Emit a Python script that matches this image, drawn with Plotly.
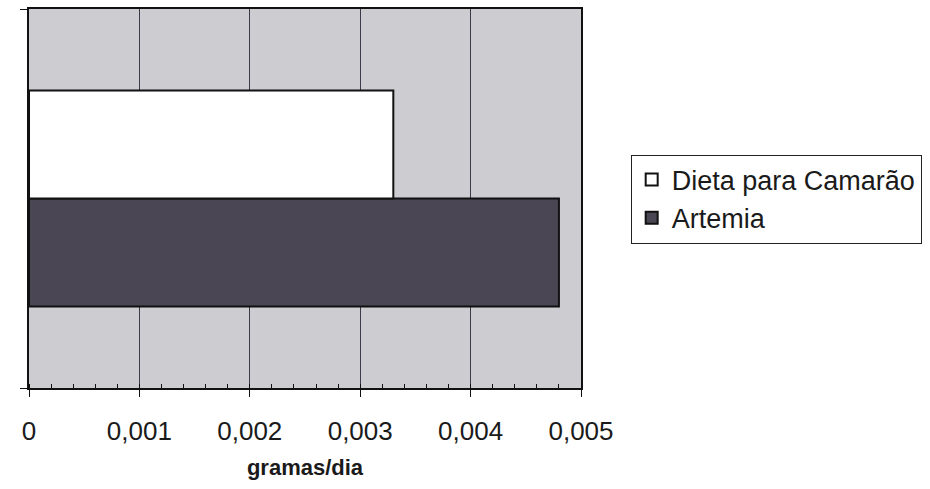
import plotly.graph_objects as go

# Daily weight gain (g/day) for each diet
categories = [""]
artemia = [0.0048]
dieta_camarao = [0.0033]

x_tickvals = [0, 0.001, 0.002, 0.003, 0.004, 0.005]
x_ticktext = ["0", "0,001", "0,002", "0,003", "0,004", "0,005"]

fig = go.Figure()
fig.add_trace(go.Bar(
    y=categories, x=artemia, orientation="h", name="Artemia",
    marker=dict(color="#4b4653", line=dict(color="#111111", width=2)),
))
fig.add_trace(go.Bar(
    y=categories, x=dieta_camarao, orientation="h", name="Dieta para Camarão",
    marker=dict(color="#ffffff", line=dict(color="#111111", width=2)),
))

fig.update_layout(
    width=930, height=489,
    margin=dict(l=29, r=349, t=7, b=101),
    paper_bgcolor="#ffffff",
    plot_bgcolor="#cdccd1",
    barmode="group",
    bargap=0.43,
    bargroupgap=0,
    font=dict(family="Liberation Sans, Arial, sans-serif", color="#1a1a1a", size=26),
    showlegend=True,
    legend=dict(
        x=1.09, y=0.616, xanchor="left", yanchor="top",
        traceorder="reversed",
        bordercolor="#222222", borderwidth=1, bgcolor="#ffffff",
        font=dict(size=27),
        itemwidth=30,
        tracegroupgap=0,
    ),
)

fig.update_xaxes(
    range=[0, 0.005],
    tickvals=x_tickvals, ticktext=x_ticktext,
    showgrid=True, gridcolor="#3a3a48", gridwidth=1,
    showline=True, linecolor="#111111", linewidth=2, mirror=True,
    ticks="outside", ticklen=7, tickcolor="#111111",
    ticklabelstandoff=12,
    minor=dict(dtick=0.0002, ticks="inside", ticklen=4, tickcolor="#111111", showgrid=False),
    zeroline=False,
    title=dict(text="<b>gramas/dia</b>", font=dict(size=22), standoff=14),
    tickfont=dict(size=26),
)
fig.update_yaxes(
    range=[-0.5, 0.5],
    showticklabels=False,
    tickson="boundaries",
    ticks="outside", ticklen=7, tickcolor="#111111",
    showline=True, linecolor="#111111", linewidth=2, mirror=True,
    showgrid=False,
)

fig.write_html("out.html")
